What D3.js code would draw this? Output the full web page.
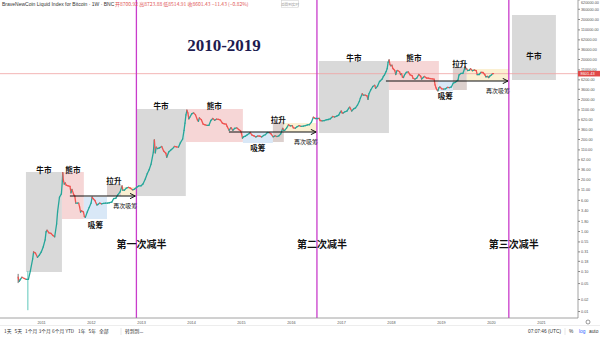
<!DOCTYPE html>
<html><head><meta charset="utf-8">
<script src="https://cdn.jsdelivr.net/npm/d3@7"></script>
<style>
body{margin:0;background:#fff;}
svg{display:block;font-family:"Liberation Sans",Arial,sans-serif;}
</style></head><body><svg id="c" width="600" height="337"></svg>
<script>
// ---- data ----
const priceSeries = [
["2010-07-18",0.07],["2010-07-25",0.055],["2010-08-01",0.06],["2010-08-15",0.07],["2010-09-01",0.065],["2010-09-15",0.062],
["2010-10-01",0.062],["2010-10-15",0.10],["2010-11-01",0.20],["2010-11-08",0.30],["2010-11-22",0.28],["2010-12-06",0.22],["2010-12-20",0.25],
["2011-01-03",0.30],["2011-01-17",0.40],["2011-01-31",0.60],["2011-02-07",0.95],["2011-02-14",1.05],["2011-02-28",0.90],["2011-03-14",0.88],
["2011-03-28",0.78],["2011-04-11",0.72],["2011-04-25",1.5],["2011-05-02",3.0],["2011-05-16",7.0],["2011-05-30",8.5],["2011-06-06",18],
["2011-06-09",29],["2011-06-13",19],["2011-06-20",15],["2011-06-27",16],["2011-07-04",14],["2011-07-18",13.5],["2011-08-01",13],
["2011-08-08",9],["2011-08-15",11],["2011-08-29",8],["2011-09-05",7.5],["2011-09-12",5],["2011-09-26",5],["2011-10-03",5],["2011-10-10",4],
["2011-10-17",3],["2011-10-24",3.2],["2011-11-07",3],["2011-11-14",2.3],["2011-11-21",2.2],["2011-12-05",3],["2011-12-19",3.9],
["2012-01-02",5],["2012-01-09",7],["2012-01-16",6.5],["2012-01-30",5.8],["2012-02-13",4.5],["2012-02-20",4.6],["2012-03-05",5],
["2012-03-19",4.8],["2012-04-02",4.9],["2012-04-16",5],["2012-05-01",5],["2012-05-15",5.1],["2012-06-01",5.3],["2012-06-15",6.5],
["2012-07-01",6.6],["2012-07-15",8],["2012-08-01",9.5],["2012-08-15",13.5],["2012-08-20",10.5],["2012-09-01",10.5],["2012-09-15",11.8],
["2012-10-01",12.4],["2012-10-15",11.8],["2012-11-01",10.7],["2012-11-15",11.2],["2012-12-01",12.5],["2012-12-15",13.4],
["2013-01-01",13.5],["2013-01-15",15],["2013-02-01",20],["2013-02-15",27],["2013-03-01",34],["2013-03-15",47],["2013-04-01",94],
["2013-04-08",190],["2013-04-15",90],["2013-04-22",125],["2013-05-01",115],["2013-05-15",120],["2013-06-01",130],["2013-06-15",100],
["2013-07-01",88],["2013-07-08",70],["2013-07-22",95],["2013-08-05",105],["2013-08-19",115],["2013-09-02",130],["2013-09-16",127],
["2013-10-01",125],["2013-10-15",160],["2013-11-01",200],["2013-11-11",330],["2013-11-18",500],["2013-11-25",800],["2013-12-02",1050],
["2013-12-09",900],["2013-12-16",640],["2013-12-23",700],
["2014-01-06",850],["2014-01-20",900],["2014-02-03",800],["2014-02-17",600],["2014-02-24",550],["2014-03-03",670],["2014-03-17",610],
["2014-03-31",470],["2014-04-14",450],["2014-04-28",440],["2014-05-12",440],["2014-05-26",580],["2014-06-09",650],["2014-06-23",590],
["2014-07-07",630],["2014-07-21",620],["2014-08-04",590],["2014-08-18",500],["2014-09-01",480],["2014-09-15",470],["2014-09-22",410],
["2014-10-06",330],["2014-10-20",385],["2014-11-03",330],["2014-11-17",370],["2014-12-01",380],["2014-12-15",345],["2014-12-29",320],
["2015-01-05",275],["2015-01-12",210],["2015-01-19",225],["2015-02-02",235],["2015-02-16",255],["2015-03-02",275],["2015-03-09",290],
["2015-03-23",250],["2015-04-06",240],["2015-04-20",225],["2015-05-04",238],["2015-05-18",237],["2015-06-01",225],["2015-06-15",245],
["2015-06-29",257],["2015-07-13",290],["2015-07-27",290],["2015-08-10",265],["2015-08-24",227],["2015-09-07",240],["2015-09-21",231],
["2015-10-05",240],["2015-10-19",270],["2015-11-02",370],["2015-11-09",330],["2015-11-16",330],["2015-11-30",375],["2015-12-14",450],
["2015-12-28",425],
["2016-01-11",430],["2016-01-18",380],["2016-02-01",372],["2016-02-15",405],["2016-03-01",430],["2016-03-15",415],["2016-04-01",420],
["2016-04-15",430],["2016-05-01",450],["2016-05-15",455],["2016-05-30",530],["2016-06-13",700],["2016-06-20",670],["2016-06-27",650],
["2016-07-11",650],["2016-07-25",655],["2016-08-01",580],["2016-08-15",570],["2016-09-01",575],["2016-09-15",605],["2016-10-01",615],
["2016-10-15",640],["2016-11-01",730],["2016-11-15",710],["2016-12-01",750],["2016-12-15",790],["2016-12-26",930],
["2017-01-02",1000],["2017-01-09",900],["2017-01-16",890],["2017-01-30",960],["2017-02-13",1000],["2017-02-27",1180],["2017-03-06",1250],
["2017-03-20",1000],["2017-04-03",1130],["2017-04-17",1200],["2017-05-01",1400],["2017-05-15",1750],["2017-05-22",2100],["2017-06-05",2700],
["2017-06-12",2500],["2017-06-26",2500],["2017-07-10",2400],["2017-07-17",1950],["2017-07-24",2700],["2017-08-07",3400],["2017-08-21",4100],
["2017-09-04",4400],["2017-09-11",3700],["2017-09-25",4200],["2017-10-09",5500],["2017-10-16",5700],["2017-10-30",6400],["2017-11-06",7300],
["2017-11-13",7800],["2017-11-27",9800],["2017-12-04",11500],["2017-12-11",16500],["2017-12-18",19000],["2017-12-25",14500],
["2018-01-01",13500],["2018-01-08",14000],["2018-01-15",11500],["2018-01-22",11000],["2018-01-29",10200],["2018-02-05",8200],
["2018-02-12",10000],["2018-02-19",10300],["2018-03-05",9600],["2018-03-12",8200],["2018-03-19",8600],["2018-03-26",7000],["2018-04-02",6900],
["2018-04-09",7900],["2018-04-23",9300],["2018-05-07",9500],["2018-05-21",8000],["2018-06-04",7700],["2018-06-11",6600],["2018-06-25",6300],
["2018-07-09",6700],["2018-07-23",8200],["2018-08-06",7400],["2018-08-13",6300],["2018-08-27",7000],["2018-09-03",7300],["2018-09-17",6700],
["2018-10-01",6600],["2018-10-15",6500],["2018-10-29",6400],["2018-11-12",6300],["2018-11-19",4500],["2018-11-26",3800],["2018-12-03",3400],
["2018-12-10",3200],["2018-12-17",3800],["2018-12-24",4000],
["2019-01-07",3600],["2019-01-21",3550],["2019-02-04",3600],["2019-02-18",3900],["2019-03-04",3850],["2019-03-18",4000],["2019-04-01",5000],
["2019-04-15",5200],["2019-05-06",6000],["2019-05-13",8000],["2019-05-27",8700],["2019-06-10",8700],["2019-06-24",11800],["2019-06-26",12900],
["2019-07-01",11300],["2019-07-08",11400],["2019-07-15",10300],["2019-07-29",10500],["2019-08-05",11500],["2019-08-19",10200],
["2019-09-02",10600],["2019-09-16",10200],["2019-09-23",8100],["2019-10-07",8200],["2019-10-21",9300],["2019-11-04",9200],["2019-11-18",8100],
["2019-11-25",7200],["2019-12-09",7300],["2019-12-16",6900],["2019-12-23",7400],["2020-01-06",8100],["2020-01-13",8613],["2020-01-20",8601.43]
];
const wicks = [["2010-07-18",0.05,0.085],["2010-09-27",0.0105,0.1]];
const halvingDates = ["2012-11-28","2016-07-09","2020-05-11"];
const halvingLabels = ["第一次减半","第二次减半","第三次减半"];
// phase boxes: [label, start, end, lowPrice, highPrice, kind]
const phaseBoxes = [
["牛市","2010-09-13","2011-06-03",0.0946,29.9,"bull"],
["熊市","2011-06-03","2011-11-10",2.0,29.9,"bear"],
["吸筹","2011-11-10","2012-04-27",2.0,7.1,"accum"],
["拉升","2012-04-27","2012-08-07",7.5,15.0,"pump"],
["","2012-08-07","2012-11-28",7.5,12.6,"reaccum"],
["牛市","2012-11-28","2013-11-24",7.5,1125,"bull"],
["熊市","2013-11-24","2015-01-15",168,1125,"bear"],
["吸筹","2015-01-15","2015-08-22",159,299,"accum"],
["拉升","2015-08-22","2015-11-10",168,532,"pump"],
["","2015-11-10","2016-07-09",299,502,"reaccum"],
["牛市","2016-07-24","2017-12-17",282,17825,"bull"],
["熊市","2017-12-17","2018-12-17",3357,17825,"bear"],
["吸筹","2018-12-09","2019-03-29",3170,5636,"accum"],
["拉升","2019-03-29","2019-07-09",3357,12619,"pump"],
["","2019-07-09","2020-05-11",5636,11247,"reaccum"],
["牛市","2020-06-03","2021-04-20",5968,251785,"nextbull"]
];
// accumulation arrows: [start, end, price]
const accumArrows = [["2011-07-31","2012-11-20",7.5],["2014-10-05","2016-07-03",299],["2017-11-25","2020-05-05",5636]];
const accumText = "再次吸筹";
const priceTicks = [0.01,0.02,0.05,0.10,0.18,0.31,0.55,1.00,1.80,3.40,6.00,11.00,20.00,36.00,62.00,110.00,200.00,360.00,620.00,1100.00,2000.00,3600.00,6200.00,11000.00,20000.00,36000.00,62000.00,110000.00,200000.00,360000.00,620000.00];
const yearTicks = [2011,2012,2013,2014,2015,2016,2017,2018,2019,2020,2021];
const lastPrice = 8601.43;
const titleText = "2010-2019";
const headerText = "BraveNewCoin Liquid Index for Bitcoin · 1W · BNC";
const headerValues = "开8700.92 高8723.88 低8514.91 收8601.43 −11.43 (−0.82%)";
const rangeButtons = ["1天","5天","1个月","3个月","6个月","YTD","1年","5年","全部"];

// ---- drawing ----
const W = 600, H = 337, plotR = 578, plotB = 318;
const svg = d3.select("#c");
const parse = d3.timeParse("%Y-%m-%d");
const x = d3.scaleTime().domain([new Date(2011,0,1), new Date(2021,0,1)]).range([41, 541]);
const y = d3.scaleLog().domain([0.0067, 597000]).range([plotB, 0]);

const fills = {bull:"#d9d9d9", bear:"#f6d6d6", accum:"#d9e8f7", pump:"#dcd0cd", reaccum:"#fbf0d2", nextbull:"#d9d9d9"};

const plot = svg.append("g");
svg.append("defs").append("clipPath").attr("id","clip").append("rect").attr("x",0).attr("y",0).attr("width",plotR).attr("height",plotB);
plot.attr("clip-path","url(#clip)");

// boxes
plot.selectAll("rect.box").data(phaseBoxes).join("rect").attr("class","box")
  .attr("x", d => x(parse(d[1]))).attr("width", d => x(parse(d[2])) - x(parse(d[1])))
  .attr("y", d => y(d[4])).attr("height", d => y(d[3]) - y(d[4]))
  .attr("fill", d => fills[d[5]]);

// last price horizontal line
plot.append("line").attr("x1",0).attr("x2",plotR).attr("y1",y(lastPrice)).attr("y2",y(lastPrice))
  .attr("stroke","#f0a3a3").attr("stroke-width",0.8);

// halving lines
plot.selectAll("line.halv").data(halvingDates).join("line").attr("class","halv")
  .attr("x1", d => x(parse(d))).attr("x2", d => x(parse(d))).attr("y1",0).attr("y2",plotB)
  .attr("stroke","#c93ccb").attr("stroke-width",1.3);

// wicks
plot.selectAll("line.wick").data(wicks).join("line").attr("class","wick")
  .attr("x1", d => x(parse(d[0]))).attr("x2", d => x(parse(d[0])))
  .attr("y1", d => y(d[1])).attr("y2", d => y(d[2]))
  .attr("stroke", (d,i) => i === 0 ? "#777" : "#5fc7bb").attr("stroke-width",1);

// price segments
const pts = priceSeries.map(d => [x(parse(d[0])), y(d[1]), d[1]]);
const segs = d3.pairs(pts);
plot.selectAll("line.seg").data(segs).join("line").attr("class","seg")
  .attr("x1", d => d[0][0]).attr("y1", d => d[0][1]).attr("x2", d => d[1][0]).attr("y2", d => d[1][1])
  .attr("stroke", d => d[1][2] >= d[0][2] ? "#26a69a" : "#ef5350").attr("stroke-width",1.3).attr("stroke-linecap","round");

// arrows
svg.append("defs").append("marker").attr("id","arr").attr("viewBox","0 0 10 10").attr("refX",9).attr("refY",5)
  .attr("markerWidth",6).attr("markerHeight",6).attr("orient","auto")
  .append("path").attr("d","M1,1 L9,5 L1,9").attr("fill","none").attr("stroke","#111").attr("stroke-width",1.5);
plot.selectAll("line.arrow").data(accumArrows).join("line").attr("class","arrow")
  .attr("x1", d => x(parse(d[0]))).attr("x2", d => x(parse(d[1])))
  .attr("y1", d => y(d[2])).attr("y2", d => y(d[2]))
  .attr("stroke","#111").attr("stroke-width",1.1).attr("marker-end","url(#arr)");

const cjk = '"Noto Sans CJK SC","Noto Sans",sans-serif';
// phase labels
const lab = phaseBoxes.filter(d => d[0]);
plot.selectAll("text.phase").data(lab).join("text").attr("class","phase")
  .attr("x", d => (x(parse(d[1])) + x(parse(d[2]))) / 2)
  .attr("y", d => d[5] === "accum" ? y(d[3]) + 8.5 : d[5] === "nextbull" ? y(d[4]) + 44 : y(d[4]) + 0.5)
  .attr("text-anchor","middle").attr("font-family",cjk).attr("font-weight","bold").attr("font-size",7.6).attr("fill","#111")
  .text(d => d[0]);
plot.selectAll("text.acc").data(accumArrows).join("text").attr("class","acc")
  .attr("x", d => x(parse(d[1])) - 10).attr("y", d => y(d[2]) + 11.5)
  .attr("text-anchor","middle").attr("font-family",cjk).attr("font-size",6).attr("fill","#111")
  .text(accumText);
plot.selectAll("text.halvL").data(halvingDates).join("text").attr("class","halvL")
  .attr("x", d => x(parse(d)) + 5).attr("y", 248)
  .attr("text-anchor","middle").attr("font-family",cjk).attr("font-weight","bold").attr("font-size",10).attr("fill","#111")
  .text((d,i) => halvingLabels[i]);

// title
svg.append("text").attr("x",224).attr("y",51).attr("text-anchor","middle")
  .attr("font-family",'"Liberation Serif","Times New Roman",serif').attr("font-weight","bold").attr("font-size",17)
  .attr("fill","#1d1b4f").text(titleText);

// axes
const yAxis = d3.axisRight(y).tickValues(priceTicks).tickFormat(d3.format(".2f")).tickSize(2).tickPadding(1);
const gy = svg.append("g").attr("transform",`translate(${plotR},0)`).call(yAxis);
gy.select(".domain").attr("stroke","#8a8a8a").attr("stroke-width",0.8).attr("d",`M0,0V${plotB}`);
gy.selectAll(".tick line").attr("stroke","#8a8a8a");
gy.selectAll(".tick text").attr("font-size",3.8).attr("fill","#555").attr("font-family","Liberation Sans,Arial,sans-serif")
  .attr("dy", d => y(d) < 2 ? (2 - y(d) + 1.3) + "px" : "0.32em");

const xAxis = d3.axisBottom(x).tickValues(yearTicks.map(v => new Date(v,0,1))).tickFormat(d3.timeFormat("%Y")).tickSize(0).tickPadding(3);
const gx = svg.append("g").attr("transform",`translate(0,${plotB})`).call(xAxis);
gx.select(".domain").attr("stroke","#8a8a8a").attr("stroke-width",0.8).attr("d",`M0,0H${plotR}`);
gx.selectAll(".tick text").attr("font-size",3.8).attr("fill","#555").attr("font-family","Liberation Sans,Arial,sans-serif");

// price tag
const ty = y(lastPrice);
svg.append("rect").attr("x",plotR).attr("y",ty-2.8).attr("width",W-plotR).attr("height",5.6).attr("fill","#e04848");
svg.append("text").attr("x",plotR+2.5).attr("y",ty+1.4).attr("font-size",3.9).attr("fill","#fff").text(d3.format(".2f")(lastPrice));

// header
svg.append("text").attr("x",2).attr("y",6).attr("font-size",5).attr("fill","#333").text(headerText);
svg.append("text").attr("x",115).attr("y",6).attr("font-size",5).attr("fill","#e05555").attr("font-family",cjk).text(headerValues);
svg.append("rect").attr("x",281.5).attr("y",0.5).attr("width",17).attr("height",7).attr("fill","#fff").attr("stroke","#ccc").attr("stroke-width",0.5);
svg.append("text").attr("x",290).attr("y",5.5).attr("text-anchor","middle").attr("font-size",3.6).attr("fill","#999").attr("font-family",cjk).text("返回到实时");

// bottom toolbar
svg.append("line").attr("x1",0).attr("x2",W).attr("y1",325.5).attr("y2",325.5).attr("stroke","#e0e0e0").attr("stroke-width",0.6);
let bx = 4;
const bw = [7,7,10,10,10,9,7,7,8];
rangeButtons.forEach((t,i) => {
  svg.append("text").attr("x",bx).attr("y",333).attr("font-size",4.8).attr("fill","#333").attr("font-family",cjk).text(t);
  bx += bw[i] + 3.5;
});
svg.append("line").attr("x1",121).attr("x2",121).attr("y1",328).attr("y2",335).attr("stroke","#ccc").attr("stroke-width",0.5);
svg.append("text").attr("x",125).attr("y",333).attr("font-size",4.8).attr("fill","#333").attr("font-family",cjk).text("转到到...");
svg.append("text").attr("x",528).attr("y",333).attr("font-size",4.8).attr("fill","#333").text("07:07:46 (UTC)");
svg.append("line").attr("x1",565).attr("x2",565).attr("y1",328).attr("y2",335).attr("stroke","#ccc").attr("stroke-width",0.5);
svg.append("text").attr("x",569).attr("y",333).attr("font-size",4.8).attr("fill","#333").text("%");
svg.append("text").attr("x",579).attr("y",333).attr("font-size",4.8).attr("fill","#2962ff").text("log");
svg.append("text").attr("x",589).attr("y",333).attr("font-size",4.8).attr("fill","#333").text("auto");
svg.append("circle").attr("cx",588).attr("cy",322).attr("r",2).attr("fill","none").attr("stroke","#555").attr("stroke-width",0.6);
</script></body></html>
